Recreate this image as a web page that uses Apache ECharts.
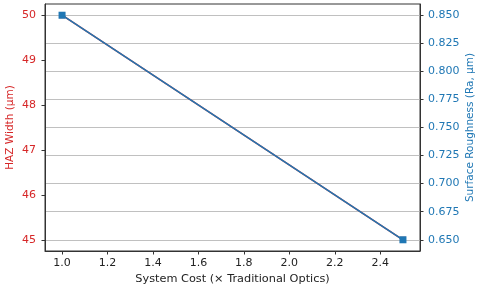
<!DOCTYPE html>
<html><head><meta charset="utf-8">
<script src="https://cdn.jsdelivr.net/npm/echarts@6/dist/echarts.min.js"></script>
<style>html,body{margin:0;padding:0;background:#fff}#c{width:480px;height:287px}</style>
</head><body><div id="c"></div>
<script>
const costs = [1.0, 2.5];
const hazWidth = [50, 45];
const roughness = [0.85, 0.65];
const xTicks = [1.0, 1.2, 1.4, 1.6, 1.8, 2.0, 2.2, 2.4];
const leftTicks = [45, 46, 47, 48, 49, 50];
const rightTicks = [0.650, 0.675, 0.700, 0.725, 0.750, 0.775, 0.800, 0.825, 0.850];

const RED = '#d62728', BLUE = '#1f77b4', DARK = '#333';
const font = 'DejaVu Sans';
const FS = 11;
const chart = echarts.init(document.getElementById('c'));
chart.setOption({
  animation: false,
  grid: {left: 45, right: 60, top: 4, bottom: 36, containLabel: false, outerBoundsMode: 'none',
    show: true, borderColor: DARK, borderWidth: 1, backgroundColor: 'transparent'},
  xAxis: {
    type: 'value', min: 0.925, max: 2.575,
    name: 'System Cost (× Traditional Optics)', nameLocation: 'middle', nameGap: 21,
    nameTextStyle: {color: '#222', fontSize: 11.3, fontFamily: font},
    axisLine: {lineStyle: {color: DARK}},
    axisTick: {customValues: xTicks, length: 3.5, lineStyle: {color: DARK}},
    axisLabel: {customValues: xTicks, color: '#222', fontSize: FS, fontFamily: font, margin: 7, formatter: v => v.toFixed(1)},
    splitLine: {show: false}
  },
  yAxis: [{
    type: 'value', min: 44.75, max: 50.25, position: 'left',
    name: 'HAZ Width (µm)', nameLocation: 'middle', nameGap: 29, nameMoveOverlap: false,
    nameTextStyle: {color: RED, fontSize: 10.5, fontFamily: font},
    axisLine: {show: true, lineStyle: {color: DARK}},
    axisTick: {show: true, customValues: leftTicks, length: 3.5, lineStyle: {color: DARK}},
    axisLabel: {customValues: leftTicks, color: RED, fontSize: FS, fontFamily: font, margin: 9},
    splitLine: {show: false}
  }, {
    type: 'value', min: 0.64, max: 0.86, position: 'right',
    name: 'Surface Roughness (Ra, µm)', nameLocation: 'middle', nameGap: 45, nameMoveOverlap: false,
    nameTextStyle: {color: BLUE, fontSize: 10.5, fontFamily: font},
    axisLine: {show: true, lineStyle: {color: DARK}},
    axisTick: {show: true, customValues: rightTicks, length: 3.5, lineStyle: {color: DARK}},
    axisLabel: {customValues: rightTicks, color: BLUE, fontSize: FS, fontFamily: font, margin: 8, formatter: v => v.toFixed(3)},
    splitLine: {show: true, lineStyle: {color: '#b0b0b0', width: 0.8}}
  }],
  series: [{
    type: 'line', yAxisIndex: 0, data: costs.map((c, i) => [c, hazWidth[i]]),
    color: RED, symbol: 'rect', symbolSize: 6, lineStyle: {width: 1.5}, z: 2
  }, {
    type: 'line', yAxisIndex: 1, data: costs.map((c, i) => [c, roughness[i]]),
    color: BLUE, symbol: 'rect', symbolSize: 7, lineStyle: {width: 1.5}, itemStyle: {color: BLUE}, z: 3
  }]
});
</script></body></html>
